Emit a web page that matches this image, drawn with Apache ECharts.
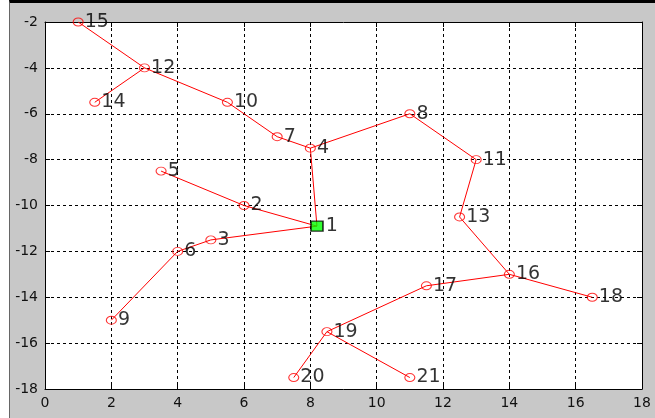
<!DOCTYPE html>
<html>
<head>
<meta charset="utf-8">
<script src="https://cdn.jsdelivr.net/npm/echarts@6/dist/echarts.min.js"></script>
<style>
  html, body { margin: 0; padding: 0; background: #fff; }
  #frame {
    position: absolute; left: 9px; top: 0; width: 646px; height: 418px;
    box-sizing: border-box; background: #c8c8c8;
    border-top: 3px solid #000; border-left: 1px solid #666;
  }
  #chart { position: absolute; left: 0; top: 0; width: 655px; height: 418px; }
</style>
</head>
<body>
<div id="frame"></div>
<div id="chart"></div>
<script>
// Node coordinates, indexed by node number - 1
const nodeNames = ['1','2','3','4','5','6','7','8','9','10','11','12','13','14','15','16','17','18','19','20','21'];
const nodeX = [8.2, 6, 5, 8, 3.5, 4, 7, 11, 2, 5.5, 13, 3, 12.5, 1.5, 1, 14, 11.5, 16.5, 8.5, 7.5, 11];
const nodeY = [-10.9, -10, -11.5, -7.5, -8.5, -12, -7, -6, -15, -5.5, -8, -4, -10.5, -5.5, -2, -13, -13.5, -14, -15.5, -17.5, -17.5];

// Tree edges as pairs of node numbers
const edges = [
  [15, 12], [12, 14], [12, 10], [10, 7], [7, 4], [4, 8], [4, 1], [8, 11],
  [11, 13], [13, 16], [16, 17], [16, 18], [17, 19], [19, 20], [19, 21],
  [5, 2], [2, 1], [1, 3], [3, 6], [6, 9]
];

// Axis ranges and ticks
const xMin = 0, xMax = 18, xStep = 2;
const yMin = -18, yMax = -2, yStep = 2;

const chart = echarts.init(document.getElementById('chart'), null, { renderer: 'canvas' });

const ellipse = 'path://M0,4 A5,4 0 1 1 10,4 A5,4 0 1 1 0,4 Z';
const labelStyle = {
  show: true, position: 'right', distance: 1,
  fontFamily: 'DejaVu Sans, sans-serif', fontSize: 19, color: '#000'
};

const series = edges.map(([a, b]) => ({
  type: 'line',
  data: [[nodeX[a - 1], nodeY[a - 1]], [nodeX[b - 1], nodeY[b - 1]]],
  symbol: 'none', silent: true, animation: false,
  lineStyle: { color: '#ff0000', width: 1 },
  z: 2
}));

series.push({
  type: 'scatter',
  data: nodeNames.slice(1).map((n, i) => ({ name: n, value: [nodeX[i + 1], nodeY[i + 1]] })),
  symbol: ellipse, symbolSize: [10, 8],
  itemStyle: { color: 'rgba(0,0,0,0)', borderColor: '#ff0000', borderWidth: 1 },
  label: Object.assign({ formatter: '{b}' }, labelStyle),
  animation: false, z: 3
});

series.push({
  type: 'scatter',
  data: [{ name: nodeNames[0], value: [nodeX[0], nodeY[0]] }],
  symbol: 'rect', symbolSize: [12, 10],
  itemStyle: { color: '#00ff00', borderColor: '#000', borderWidth: 1.5 },
  label: Object.assign({ formatter: '{b}' }, labelStyle, { distance: 2 }),
  animation: false, z: 4
});

const tickFont = { fontFamily: 'DejaVu Sans, sans-serif', fontSize: 14, color: '#111' };
const gridLine = { show: true, lineStyle: { color: '#000', type: [3, 3], width: 1 } };

chart.setOption({
  backgroundColor: 'transparent',
  animation: false,
  grid: { left: 45, top: 22, width: 597, height: 367, show: true, backgroundColor: '#fff', borderWidth: 0 },
  xAxis: [
    {
      type: 'value', min: xMin, max: xMax, interval: xStep, position: 'bottom',
      axisLine: { show: true, onZero: false, lineStyle: { color: '#000', width: 1 } },
      axisTick: { show: true, inside: true, length: 5, lineStyle: { color: '#000' } },
      axisLabel: Object.assign({ margin: 7 }, tickFont),
      splitLine: gridLine
    },
    {
      type: 'value', min: xMin, max: xMax, interval: xStep, position: 'top',
      axisLine: { show: true, onZero: false, lineStyle: { color: '#000', width: 1 } },
      axisTick: { show: true, inside: true, length: 5, lineStyle: { color: '#000' } },
      axisLabel: { show: false }, splitLine: { show: false }
    }
  ],
  yAxis: [
    {
      type: 'value', min: yMin, max: yMax, interval: yStep, position: 'left',
      axisLine: { show: true, onZero: false, lineStyle: { color: '#000', width: 1 } },
      axisTick: { show: true, inside: true, length: 5, lineStyle: { color: '#000' } },
      axisLabel: Object.assign({ margin: 7 }, tickFont),
      splitLine: gridLine
    },
    {
      type: 'value', min: yMin, max: yMax, interval: yStep, position: 'right',
      axisLine: { show: true, onZero: false, lineStyle: { color: '#000', width: 1 } },
      axisTick: { show: true, inside: true, length: 5, lineStyle: { color: '#000' } },
      axisLabel: { show: false }, splitLine: { show: false }
    }
  ],
  series: series
});
</script>
</body>
</html>
